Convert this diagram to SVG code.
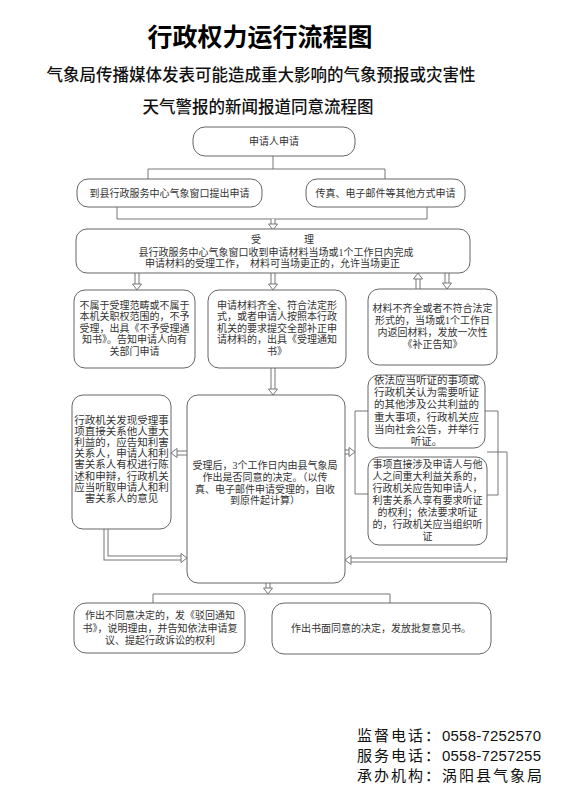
<svg xmlns="http://www.w3.org/2000/svg" width="581" height="801" viewBox="0 0 581 801">
<style>
.box{fill:#fff;stroke:#666;stroke-width:1}
.ln{fill:none;stroke:#777;stroke-width:1}
.so{fill:none;stroke:#777;stroke-width:5}
.si{fill:none;stroke:#fff;stroke-width:3}
.hd{fill:#fff;stroke:#777;stroke-width:1}
.t{font-family:"Liberation Serif","Noto Sans CJK SC",serif;font-size:10px;fill:#333;text-anchor:middle}
.t105{font-size:10.5px}
.title{font-family:"Noto Sans CJK SC",sans-serif;font-weight:bold;font-size:25px;fill:#000;text-anchor:middle}
.sub{font-family:"Noto Sans CJK SC",sans-serif;font-weight:500;font-size:16.5px;fill:#111;text-anchor:middle}
.ft{font-family:"Liberation Sans","Noto Sans CJK SC",sans-serif;font-size:15px;fill:#111}
</style>
<rect width="581" height="801" fill="#fff"/>
<text class="title" x="260" y="46">行政权力运行流程图</text>
<text class="sub" x="261" y="81">气象局传播媒体发表可能造成重大影响的气象预报或灾害性</text>
<text class="sub" x="258" y="113">天气警报的新闻报道同意流程图</text>

<g id="connectors">
  <path class="ln" d="M273,156 V169 M148,179 V169 H385 V179"/>
  <path class="ln" d="M117,207 V219 H427 V207"/>
  <path class="ln" d="M368,411 H355 V494 H368"/>
  <path class="ln" d="M485,411 H498 V495 H487"/>
  <path class="ln" d="M487,452 H507 V560"/>
  <path class="ln" d="M153,603 V594 H390 V603"/>
  <!-- hollow arrows -->
  <g id="a1"><path class="so" d="M273,219 V224"/><path class="si" d="M273,219 V224"/><polygon class="hd" points="268.5,224 273,230 277.5,224"/></g>
  <g id="a2"><path class="so" d="M137,273 V284"/><path class="si" d="M137,273 V284"/><polygon class="hd" points="132.5,284 137,290 141.5,284"/></g>
  <g id="a3"><path class="so" d="M273,273 V284"/><path class="si" d="M273,273 V284"/><polygon class="hd" points="268.5,284 273,290 277.5,284"/></g>
  <g id="a4"><path class="so" d="M418,289 V279"/><path class="si" d="M418,289 V279"/><polygon class="hd" points="413.5,279 418,273 422.5,279"/></g>
  <g id="a5"><path class="so" d="M447,273 V283"/><path class="si" d="M447,273 V283"/><polygon class="hd" points="442.5,283 447,289 451.5,283"/></g>
  <g id="a6"><path class="so" d="M273,368 V389"/><path class="si" d="M273,368 V389"/><polygon class="hd" points="268.5,389 273,395 277.5,389"/></g>
  <g id="a7"><path class="so" d="M187,453 H177"/><path class="si" d="M187,453 H177"/><polygon class="hd" points="177,448.5 171,453 177,457.5"/></g>
  <g id="a8"><path class="so" d="M106,529 V558 H181"/><path class="si" d="M106,529 V558 H181"/><polygon class="hd" points="181,553.5 187,558 181,562.5"/></g>
  <g id="a9"><path class="so" d="M345,452 H349"/><path class="si" d="M345,452 H349"/><polygon class="hd" points="349,447.5 355,452 349,456.5"/></g>
  <g id="a10"><path class="so" d="M507,560 H351"/><path class="si" d="M506,560 H351"/><polygon class="hd" points="351,555.5 345,560 351,564.5"/></g>
  <g id="a11"><path class="so" d="M268,583 V588"/><path class="si" d="M268,583 V588"/><polygon class="hd" points="263.5,588 268,594 272.5,588"/></g>
</g>

<g id="n-apply">
  <rect class="box" x="193" y="127" width="162" height="29" rx="12"/>
  <text class="t" x="274" y="145">申请人申请</text>
</g>
<g id="n-window">
  <rect class="box" x="77" y="179" width="185" height="28" rx="11"/>
  <text class="t" x="169.5" y="197">到县行政服务中心气象窗口提出申请</text>
</g>
<g id="n-fax">
  <rect class="box" x="306" y="179" width="159" height="28" rx="11"/>
  <text class="t" x="385.5" y="197">传真、电子邮件等其他方式申请</text>
</g>
<g id="n-accept">
  <rect class="box" x="76" y="229" width="394" height="44" rx="11"/>
  <text class="t"><tspan x="256" y="243">受</tspan><tspan x="309" y="243">理</tspan></text>
  <text class="t" x="276" y="256">县行政服务中心气象窗口收到申请材料当场或1个工作日内完成</text>
  <text class="t" x="272.5" y="267">申请材料的受理工作，　材料可当场更正的，允许当场更正</text>
</g>
<g id="n-reject">
  <rect class="box" x="74" y="290" width="121" height="78" rx="11"/>
  <text class="t" x="134.5" y="308.5">不属于受理范畴或不属于</text>
  <text class="t" x="134.5" y="320">本机关职权范围的，不予</text>
  <text class="t" x="134.5" y="331.5">受理，出具《不予受理通</text>
  <text class="t" x="134.5" y="343">知书》。告知申请人向有</text>
  <text class="t" x="134.5" y="355">关部门申请</text>
</g>
<g id="n-complete">
  <rect class="box" x="208" y="290" width="138" height="78" rx="11"/>
  <text class="t" x="277" y="308.5">申请材料齐全、符合法定形</text>
  <text class="t" x="277" y="320">式，或者申请人按照本行政</text>
  <text class="t" x="277" y="331.5">机关的要求提交全部补正申</text>
  <text class="t" x="277" y="343">请材料的，出具《受理通知</text>
  <text class="t" x="277" y="355">书》</text>
</g>
<g id="n-incomplete">
  <rect class="box" x="368" y="289" width="129" height="76" rx="11"/>
  <text class="t" x="432.5" y="311.5">材料不齐全或者不符合法定</text>
  <text class="t" x="432.5" y="323.5">形式的，当场或1个工作日</text>
  <text class="t" x="432.5" y="335.5">内返回材料，发放一次性</text>
  <text class="t" x="432.5" y="348">《补正告知》</text>
</g>
<g id="n-notify">
  <rect class="box" x="72" y="395" width="99" height="134" rx="11"/>
  <text class="t t105" x="121.5" y="423.5">行政机关发现受理事</text>
  <text class="t t105" x="121.5" y="434.7">项直接关系他人重大</text>
  <text class="t t105" x="121.5" y="445.9">利益的，应告知利害</text>
  <text class="t t105" x="121.5" y="457.1">关系人，申请人和利</text>
  <text class="t t105" x="121.5" y="468.3">害关系人有权进行陈</text>
  <text class="t t105" x="121.5" y="479.5">述和申辩，行政机关</text>
  <text class="t t105" x="121.5" y="490.7">应当听取申请人和利</text>
  <text class="t t105" x="121.5" y="501.9">害关系人的意见</text>
</g>
<g id="n-decide">
  <rect class="box" x="187" y="395" width="158" height="188" rx="11"/>
  <text class="t" x="265" y="468.5">受理后，3个工作日内由县气象局</text>
  <text class="t" x="265" y="480.5">作出是否同意的决定。（以传</text>
  <text class="t" x="265" y="492.5">真、电子邮件申请受理的，自收</text>
  <text class="t" x="265" y="504">到原件起计算）</text>
</g>
<g id="n-hearing">
  <rect class="box" x="368" y="375" width="117" height="73" rx="11"/>
  <text class="t t105" x="426.5" y="384">依法应当听证的事项或</text>
  <text class="t t105" x="426.5" y="396">行政机关认为需要听证</text>
  <text class="t t105" x="426.5" y="408">的其他涉及公共利益的</text>
  <text class="t t105" x="426.5" y="420.5">重大事项，行政机关应</text>
  <text class="t t105" x="426.5" y="432.5">当向社会公告，并举行</text>
  <text class="t t105" x="426.5" y="445">听证。</text>
</g>
<g id="n-hearing2">
  <rect class="box" x="368" y="457" width="119" height="88" rx="11"/>
  <text class="t" x="427.5" y="468">事项直接涉及申请人与他</text>
  <text class="t" x="427.5" y="480">人之间重大利益关系的，</text>
  <text class="t" x="427.5" y="491.5">行政机关应告知申请人，</text>
  <text class="t" x="427.5" y="503.5">利害关系人享有要求听证</text>
  <text class="t" x="427.5" y="515.5">的权利；依法要求听证</text>
  <text class="t" x="427.5" y="527.5">的，行政机关应当组织听</text>
  <text class="t" x="427.5" y="539.5">证</text>
</g>
<g id="n-deny">
  <rect class="box" x="74" y="603" width="171" height="50" rx="12"/>
  <text class="t" x="160" y="619">作出不同意决定的，发《驳回通知</text>
  <text class="t" x="160" y="631.5">书》，说明理由，并告知依法申请复</text>
  <text class="t" x="160" y="644">议、提起行政诉讼的权利</text>
</g>
<g id="n-approve">
  <rect class="box" x="272" y="603" width="219" height="51" rx="12"/>
  <text class="t" x="381" y="632">作出书面同意的决定，发放批复意见书。</text>
</g>

<text class="ft" x="357" y="741"><tspan letter-spacing="2">监督电话：</tspan><tspan letter-spacing="0.2">0558-7252570</tspan></text>
<text class="ft" x="357" y="761"><tspan letter-spacing="2">服务电话：</tspan><tspan letter-spacing="0.2">0558-7257255</tspan></text>
<text class="ft" x="357" y="781" letter-spacing="2">承办机构：涡阳县气象局</text>
</svg>
